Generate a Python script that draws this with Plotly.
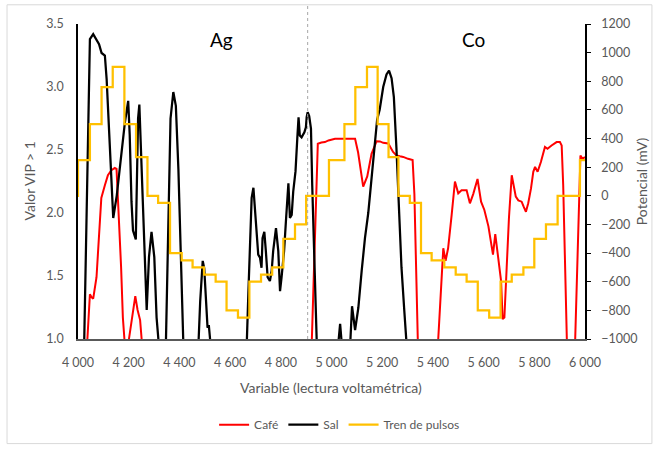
import plotly.graph_objects as go

# Voltammetric reading index (x) and VIP scores for each sample type
cafe_x = [4030, 4047, 4054, 4060, 4073, 4082, 4092, 4106, 4118, 4132, 4145, 4152, 4159, 4170, 4177, 4185, 4192,
          4196, 4201, 4212, 4226, 4235, 4245, 4251, 4255,
          4915, 4946, 4960, 4974, 4988, 5014, 5050, 5093, 5105, 5117, 5125, 5141, 5158, 5178, 5191, 5204, 5224,
          5243, 5256, 5270, 5283, 5302, 5320, 5327, 5333, 5340, 5345,
          5410, 5441, 5450, 5460, 5474, 5487, 5500, 5513, 5533, 5546, 5559, 5576, 5590, 5603, 5619, 5630, 5637,
          5646, 5655, 5663, 5669, 5675, 5682, 5691, 5700, 5711, 5719, 5727, 5737, 5750, 5758, 5767, 5776, 5787,
          5796, 5803, 5813, 5826, 5842, 5852, 5868, 5888, 5901, 5908, 5914, 5927, 5933,
          5955, 5974, 5982, 5990, 6000]
cafe_vip = [0.75, 1.355, 1.33, 1.32, 1.49, 1.83, 2.12, 2.22, 2.30, 2.34, 2.358, 2.35, 2.06, 1.57, 1.17, 1.0, 0.75,
            0.9, 1.0, 1.15, 1.34, 1.23, 1.15, 1.0, 0.9,
            0.5, 2.55, 2.56, 2.563, 2.576, 2.589, 2.59, 2.589, 2.48, 2.33, 2.21, 2.29, 2.47, 2.57, 2.568, 2.557,
            2.552, 2.484, 2.457, 2.45, 2.445, 2.43, 2.42, 2.15, 1.565, 1.0, 0.6,
            0.6, 1.72, 1.62, 1.72, 1.985, 2.25, 2.156, 2.18, 2.18, 2.077, 2.15, 2.27, 2.09, 2.024, 1.894, 1.75,
            1.67, 1.833, 1.697, 1.54, 1.46, 1.158, 1.17, 1.565, 1.96, 2.30, 2.22, 2.13, 2.10, 2.09, 2.05, 2.01,
            2.077, 2.195, 2.327, 2.366, 2.327, 2.405, 2.524, 2.51, 2.536, 2.563, 2.563, 2.536, 2.22, 1.0, 0.6,
            0.55, 1.96, 2.457, 2.43, 2.445]

sal_x = [4020, 4047, 4060, 4070, 4083, 4093, 4106, 4113, 4120, 4130, 4139, 4153, 4172, 4185, 4198, 4204, 4211,
         4217, 4228, 4233, 4237, 4242, 4251, 4261, 4271, 4280, 4290, 4301, 4310, 4317, 4330,
         4343, 4356, 4365, 4376, 4386, 4396, 4406, 4415, 4425,
         4468, 4482, 4492, 4498, 4506, 4511, 4516, 4521, 4530,
         4660, 4672, 4678, 4685, 4692, 4698, 4705, 4711, 4718, 4724, 4728, 4735, 4741, 4748, 4757, 4764, 4770,
         4781, 4790, 4797, 4803, 4813, 4821, 4830, 4836, 4843, 4849, 4858, 4865, 4870, 4875, 4882, 4893, 4899,
         4902, 4906, 4912, 4919, 4924, 4932, 4938, 4950,
         5024, 5034, 5041, 5045,
         5070, 5081, 5093, 5106, 5119, 5132, 5145, 5158, 5171, 5180, 5190, 5204, 5217, 5227, 5237, 5246, 5256,
         5266, 5276, 5287, 5296, 5305]
sal_vip = [0.5, 3.38, 3.42, 3.38, 3.34, 3.27, 3.25, 3.06, 2.75, 2.35, 1.96, 2.14, 2.48, 2.72, 2.89, 2.62, 2.09,
           1.86, 1.79, 2.22, 2.75, 2.86, 2.35, 1.70, 1.23, 1.65, 1.85, 1.65, 1.17, 1.0, 0.5,
           0.6, 1.96, 2.75, 2.96, 2.85, 2.35, 1.57, 1.0, 0.5,
           0.6, 1.3, 1.62, 1.56, 1.25, 1.09, 1.11, 1.0, 0.6,
           0.6, 1.36, 1.75, 2.12, 2.2, 2.01, 1.80, 1.67, 1.645, 1.565, 1.80, 1.85, 1.70, 1.49, 1.46, 1.54, 1.70,
           1.88, 1.70, 1.38, 1.49, 1.70, 1.96, 2.235, 1.96, 1.985, 2.17, 2.33, 2.59, 2.76, 2.615, 2.60, 2.64, 2.68,
           2.76, 2.80, 2.77, 2.67, 2.22, 1.43, 1.0, 0.4,
           0.9, 1.12, 0.95, 0.8,
           0.8, 1.26, 1.07, 1.25, 1.54, 1.80, 2.0, 2.26, 2.58, 2.74, 2.82, 3.0, 3.10, 3.13, 3.07, 2.92, 2.52,
           2.0, 1.57, 1.23, 1.0, 0.7]

# Applied pulse train (mV): step start positions and step levels
pulse_x = [3955, 4000, 4047, 4093, 4137, 4183, 4229, 4274, 4316, 4363, 4409, 4452, 4497, 4543, 4586, 4631, 4676,
           4722, 4766, 4810, 4856, 4900, 4990, 5051, 5094, 5140, 5182, 5225, 5264, 5309, 5353, 5395, 5445, 5490,
           5533, 5577, 5622, 5667, 5711, 5757, 5800, 5846, 5892, 5980, 6000]
pulse_mv = [0, 250, 500, 760, 900, 500, 270, 0, -50, -400, -450, -500, -550, -600, -800, -850, -600,
            -550, -500, -300, -200, 0, 250, 500, 760, 900, 500, 270, 0, -50, -400, -450, -500, -550,
            -600, -800, -850, -600, -550, -500, -300, -200, 0, 250, 250]

x_ticks = [4000, 4200, 4400, 4600, 4800, 5000, 5200, 5400, 5600, 5800, 6000]
x_ticktext = ["4 000", "4 200", "4 400", "4 600", "4 800", "5 000", "5 200", "5 400", "5 600", "5 800", "6 000"]
vip_ticks = [1.0, 1.5, 2.0, 2.5, 3.0, 3.5]
mv_ticks = [-1000, -800, -600, -400, -200, 0, 200, 400, 600, 800, 1000, 1200]

# Divider between the Ag and Co electrode regions
divider_x = 4906
regions = [("Ag", 4565), ("Co", 5560)]

FONT = "Lato"
GREY = "#595959"

fig = go.Figure()
fig.add_trace(go.Scatter(x=cafe_x, y=cafe_vip, mode="lines", name="Café",
                         line=dict(color="#FF0000", width=2)))
fig.add_trace(go.Scatter(x=sal_x, y=sal_vip, mode="lines", name="Sal",
                         line=dict(color="#000000", width=2.25)))
fig.add_trace(go.Scatter(x=pulse_x, y=pulse_mv, mode="lines", name="Tren de pulsos", yaxis="y2",
                         line=dict(color="#FFC000", width=2.25, shape="hv")))

fig.update_layout(
    width=660, height=451,
    margin=dict(l=78, r=75, t=24, b=109),
    paper_bgcolor="white", plot_bgcolor="white",
    font=dict(family=FONT, size=12, color=GREY),
    showlegend=True,
    legend=dict(orientation="h", x=0.516, xanchor="center", y=-0.272, yanchor="middle",
                font=dict(family=FONT, size=12, color=GREY), bgcolor="rgba(0,0,0,0)"),
    xaxis=dict(range=[4000, 6000], tickvals=x_ticks, ticktext=x_ticktext, showgrid=False, zeroline=False,
               showline=True, linecolor="#595959", linewidth=1.5, ticks="", ticklabelstandoff=11,
               tickfont=dict(family=FONT, size=12.5, color=GREY)),
    yaxis=dict(range=[1.0, 3.5], tickvals=vip_ticks, tickformat=".1f", showgrid=False, zeroline=False,
               showline=True, linecolor="#000000", linewidth=1.5, ticks="", ticklabelstandoff=10,
               tickfont=dict(family=FONT, size=12.5, color=GREY)),
    yaxis2=dict(range=[-1000, 1200], tickvals=mv_ticks, overlaying="y", side="right", showgrid=False,
                zeroline=False, showline=True, linecolor="#000000", linewidth=1.5, ticks="outside",
                ticklen=4, tickcolor="#000000", ticklabelstandoff=8,
                tickfont=dict(family=FONT, size=12.5, color=GREY)),
)

# Outer chart frame
fig.add_shape(type="rect", xref="paper", yref="paper", x0=-0.140, x1=1.132, y0=-0.332, y1=1.061,
              line=dict(color="#D9D9D9", width=1), fillcolor="rgba(0,0,0,0)", layer="below")
# Region divider
fig.add_shape(type="line", xref="x", yref="paper", x0=divider_x, x1=divider_x, y0=0, y1=1.058,
              line=dict(color="#A6A6A6", width=1, dash="dot"))

for label, xpos in regions:
    fig.add_annotation(x=xpos, y=3.38, xref="x", yref="y", text=label, showarrow=False,
                       xanchor="center", yanchor="middle",
                       font=dict(family=FONT, size=19, color="#000000"))

fig.add_annotation(x=0.499, y=-0.155, xref="paper", yref="paper", text="Variable (lectura voltamétrica)",
                   showarrow=False, xanchor="center", yanchor="middle",
                   font=dict(family=FONT, size=14, color=GREY))
fig.add_annotation(x=-0.0966, y=0.5, xref="paper", yref="paper", text="Valor VIP > 1", textangle=-90,
                   showarrow=False, xanchor="center", yanchor="middle",
                   font=dict(family=FONT, size=14, color=GREY))
fig.add_annotation(x=1.1118, y=0.5, xref="paper", yref="paper", text="Potencial (mV)", textangle=-90,
                   showarrow=False, xanchor="center", yanchor="middle",
                   font=dict(family=FONT, size=14, color=GREY))

fig.write_html("out.html")
